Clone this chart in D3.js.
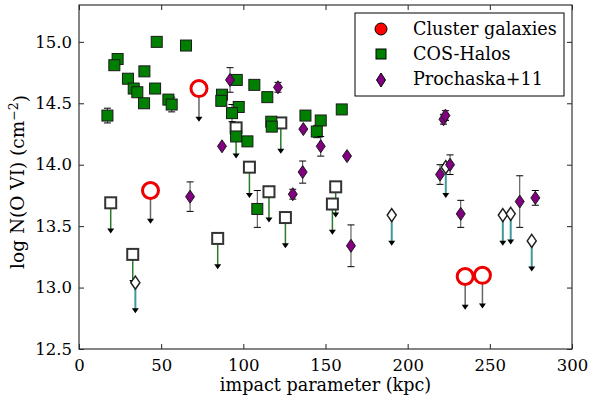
<!DOCTYPE html>
<html>
<head>
<meta charset="utf-8">
<script src="https://cdn.jsdelivr.net/npm/d3@7"></script>
<style>
  html, body { margin: 0; padding: 0; background: #fff; }
  svg { display: block; font-family: "DejaVu Serif", serif; }
</style>
</head>
<body>
<svg id="chart" width="591" height="400"></svg>
<script>
// Impact parameter (kpc) vs log N(O VI) column density

// Cluster galaxies: upper limits only
const clusterX = [43.5, 73.0, 235.0, 245.5];
const clusterY = [13.79, 14.62, 13.09, 13.10];

// COS-Halos detections
const cosDetX = [17.3, 23.5, 21.5, 29.8, 33.3, 35.5, 39.6, 39.8, 47.3, 46.3, 54.4, 56.4, 65.1,
                 96.0, 106.7, 114.6, 87.0, 86.6, 97.2, 93.1, 117.0, 117.3, 95.6, 102.5,
                 137.8, 147.1, 144.7, 159.9, 108.5];
const cosDetY = [14.40, 14.86, 14.81, 14.70, 14.62, 14.59, 14.50, 14.76, 15.00, 14.62, 14.53, 14.49, 14.97,
                 14.69, 14.65, 14.55, 14.57, 14.52, 14.47, 14.42, 14.35, 14.31, 14.23, 14.19,
                 14.40, 14.36, 14.27, 14.45, 13.64];
const cosDetErr = [0.06, 0, 0, 0, 0, 0, 0, 0, 0, 0, 0, 0.06, 0,
                   0, 0, 0, 0, 0, 0, 0.07, 0, 0, 0, 0,
                   0, 0, 0.05, 0, 0.15];

// COS-Halos upper limits
const cosLimX = [19.3, 32.7, 84.4, 95.6, 103.7, 115.6, 122.8, 125.6, 154.2, 156.2];
const cosLimY = [13.69, 13.27, 13.40, 14.30, 13.98, 13.78, 14.34, 13.57, 13.68, 13.82];

// Prochaska+11 detections
const proDetX = [67.6, 87.0, 91.9, 121.1, 130.1, 136.1, 136.5, 147.1, 163.1, 165.5,
                 219.7, 221.8, 223.0, 225.8, 232.3, 268.2, 277.7];
const proDetY = [13.74, 14.15, 14.69, 14.63, 13.76, 13.94, 14.29, 14.15, 14.07, 13.34,
                 13.92, 14.37, 14.40, 14.00, 13.60, 13.70, 13.73];
const proDetErr = [0.12, 0, 0.10, 0.04, 0.04, 0.09, 0, 0.08, 0, 0.17,
                   0.08, 0.04, 0.04, 0.08, 0.11, 0.21, 0.06];

// Prochaska+11 upper limits
const proLimX = [34.3, 190.3, 223.2, 257.9, 262.7, 275.5];
const proLimY = [13.04, 13.59, 13.98, 13.59, 13.60, 13.38];

const xTicks = [0, 50, 100, 150, 200, 250, 300];
const yTicks = [12.5, 13.0, 13.5, 14.0, 14.5, 15.0];
const legendLabels = ["Cluster galaxies", "COS-Halos", "Prochaska+11"];

// length of the upper-limit arrows, in dex
const limitDrop = 0.25;
const clusterDrop = 0.27;

const svg = d3.select("#chart");
const L = 79, R = 572, T = 5, B = 349;
const x = d3.scaleLinear().domain([0, 300]).range([L, R]);
const y = d3.scaleLinear().domain([12.5, 15.3]).range([B, T]);

const zip = (xs, ys, es) => xs.map((v, i) => ({ x: v, y: ys[i], e: es ? es[i] : 0 }));
const cosDet = zip(cosDetX, cosDetY, cosDetErr);
const cosLim = zip(cosLimX, cosLimY);
const proDet = zip(proDetX, proDetY, proDetErr);
const proLim = zip(proLimX, proLimY);
const cluster = zip(clusterX, clusterY);

// ---- axes (ticks pointing inward on all four sides) ----
function styleAxis(g) {
  g.selectAll(".domain").remove();
  g.selectAll(".tick line").attr("stroke", "#222").attr("stroke-width", 1);
  g.selectAll(".tick text").attr("fill", "#000").attr("font-size", "16.5px")
    .attr("font-family", "DejaVu Serif, serif");
}
svg.append("g").attr("transform", `translate(0,${B})`)
  .call(d3.axisBottom(x).tickValues(xTicks).tickFormat(d3.format("d")).tickSize(-5).tickPadding(10))
  .call(styleAxis);
svg.append("g").attr("transform", `translate(0,${T})`)
  .call(d3.axisTop(x).tickValues(xTicks).tickFormat("").tickSize(-5))
  .call(styleAxis);
svg.append("g").attr("transform", `translate(${L},0)`)
  .call(d3.axisLeft(y).tickValues(yTicks).tickFormat(d3.format(".1f")).tickSize(-5).tickPadding(7))
  .call(styleAxis);
svg.append("g").attr("transform", `translate(${R},0)`)
  .call(d3.axisRight(y).tickValues(yTicks).tickFormat("").tickSize(-5))
  .call(styleAxis);

// frame
svg.append("rect").attr("x", L).attr("y", T).attr("width", R - L).attr("height", B - T)
  .attr("fill", "none").attr("stroke", "#333").attr("stroke-width", 1.2);

// axis titles
svg.append("text").attr("x", (L + R) / 2).attr("y", 391).attr("text-anchor", "middle")
  .attr("font-size", "17.6px").text("impact parameter (kpc)");
const yl = svg.append("text").attr("transform", `translate(24,182) rotate(-90)`)
  .attr("text-anchor", "middle").attr("font-size", "18.5px");
yl.append("tspan").text("log N(O VI) (cm");
yl.append("tspan").attr("dy", "-0.45em").attr("font-size", "12.5px").text("\u22122");
yl.append("tspan").attr("dy", "0.45em").text(")");

const plot = svg.append("g");

// ---- helpers ----
function arrows(data, drop, color, width) {
  const g = plot.append("g");
  g.selectAll("line").data(data).join("line")
    .attr("x1", d => x(d.x)).attr("x2", d => x(d.x))
    .attr("y1", d => y(d.y)).attr("y2", d => y(d.y - drop) - 4)
    .attr("stroke", color).attr("stroke-width", width);
  g.selectAll("path").data(data).join("path")
    .attr("d", d => {
      const cx = x(d.x), ty = y(d.y - drop);
      return `M${cx - 3.5},${ty - 5}L${cx + 3.5},${ty - 5}L${cx},${ty}Z`;
    })
    .attr("fill", "#000");
}
function errorbars(data) {
  const g = plot.append("g");
  const withErr = data.filter(d => d.e > 0);
  g.selectAll("line.v").data(withErr).join("line").attr("class", "v")
    .attr("x1", d => x(d.x)).attr("x2", d => x(d.x))
    .attr("y1", d => y(d.y - d.e)).attr("y2", d => y(d.y + d.e))
    .attr("stroke", "#444").attr("stroke-width", 1);
  [-1, 1].forEach(s => {
    g.selectAll(`line.c${s}`).data(withErr).join("line").attr("class", `c${s}`)
      .attr("x1", d => x(d.x) - 3.5).attr("x2", d => x(d.x) + 3.5)
      .attr("y1", d => y(d.y + s * d.e)).attr("y2", d => y(d.y + s * d.e))
      .attr("stroke", "#000").attr("stroke-width", 1);
  });
}
const sq = 11;
const diamondPath = (cx, cy, w, h) => `M${cx},${cy - h / 2}L${cx + w / 2},${cy}L${cx},${cy + h / 2}L${cx - w / 2},${cy}Z`;

// ---- COS-Halos ----
arrows(cosLim, limitDrop, "#2a7a2a", 1.5);
plot.append("g").selectAll("rect").data(cosLim).join("rect")
  .attr("x", d => x(d.x) - sq / 2).attr("y", d => y(d.y) - sq / 2)
  .attr("width", sq).attr("height", sq)
  .attr("fill", "#fff").attr("stroke", "#333").attr("stroke-width", 2);
errorbars(cosDet);
plot.append("g").selectAll("rect").data(cosDet).join("rect")
  .attr("x", d => x(d.x) - sq / 2).attr("y", d => y(d.y) - sq / 2)
  .attr("width", sq).attr("height", sq)
  .attr("fill", "#008000").attr("stroke", "#1a1a1a").attr("stroke-width", 1);

// ---- Prochaska+11 ----
arrows(proLim, limitDrop, "#3f9b9b", 2);
plot.append("g").selectAll("path").data(proLim).join("path")
  .attr("d", d => diamondPath(x(d.x), y(d.y), 9, 13))
  .attr("fill", "#fff").attr("stroke", "#222").attr("stroke-width", 1.5);
errorbars(proDet);
plot.append("g").selectAll("path").data(proDet).join("path")
  .attr("d", d => diamondPath(x(d.x), y(d.y), 9, 13))
  .attr("fill", "#800080").attr("stroke", "#1a1a1a").attr("stroke-width", 1);

// ---- Cluster galaxies ----
arrows(cluster, clusterDrop, "#666", 1.5);
plot.append("g").selectAll("circle").data(cluster).join("circle")
  .attr("cx", d => x(d.x)).attr("cy", d => y(d.y)).attr("r", 8)
  .attr("fill", "#fff").attr("stroke", "#ee0000").attr("stroke-width", 3);

// ---- legend ----
const lg = svg.append("g");
lg.append("rect").attr("x", 355).attr("y", 13).attr("width", 209).attr("height", 83)
  .attr("fill", "#fff").attr("stroke", "#000").attr("stroke-width", 1);
const markerRows = [29, 54, 80];
const textBaselines = [35, 60, 85];
lg.append("circle").attr("cx", 381).attr("cy", markerRows[0]).attr("r", 6)
  .attr("fill", "#ff0000").attr("stroke", "#000").attr("stroke-width", 1);
lg.append("rect").attr("x", 381 - 5).attr("y", markerRows[1] - 5).attr("width", 10).attr("height", 10)
  .attr("fill", "#008000").attr("stroke", "#000").attr("stroke-width", 1);
lg.append("path").attr("d", diamondPath(381, markerRows[2], 9, 14))
  .attr("fill", "#800080").attr("stroke", "#000").attr("stroke-width", 1);
lg.selectAll("text").data(legendLabels).join("text")
  .attr("x", 413).attr("y", (d, i) => textBaselines[i])
  .attr("font-size", "17.6px").text(d => d);
</script>
</body>
</html>
